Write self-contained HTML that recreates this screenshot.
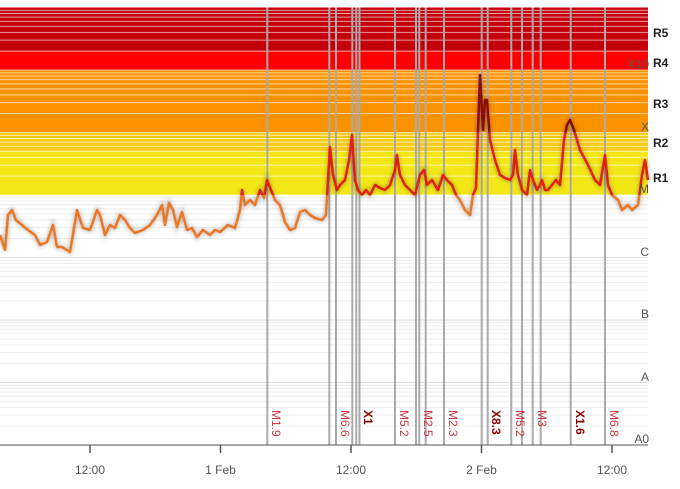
<!DOCTYPE html>
<html><head><meta charset="utf-8"><style>
html,body{margin:0;padding:0;background:#fff;}
svg{display:block;font-family:"Liberation Sans",sans-serif;}
</style></head><body>
<svg id="s" width="680" height="489" xmlns="http://www.w3.org/2000/svg">
<defs>
<clipPath id="cw"><rect x="0" y="195" width="680" height="300"/></clipPath>
<clipPath id="cy"><rect x="0" y="132.5" width="680" height="62.5"/></clipPath>
<clipPath id="co"><rect x="0" y="0" width="680" height="132.5"/></clipPath>
<filter id="gl" x="-5%" y="-20%" width="110%" height="140%"><feGaussianBlur stdDeviation="2"/></filter>
</defs>
<g id="bands">
<rect x="0" y="7.5" width="648" height="43.7" fill="#c4000c"/>
<rect x="0" y="51.2" width="648" height="18.8" fill="#ff0000"/>
<rect x="0" y="70" width="648" height="62.5" fill="#fb9300"/>
<rect x="0" y="132.5" width="648" height="62.5" fill="#f4e718"/>
<rect x="0" y="132.5" width="648" height="18.8" fill="#f7cc1c"/>
</g>
<g id="grid"></g>
<g id="vl" stroke="#aaaaaa" stroke-width="2"></g>
<g id="curve"></g>
<line x1="0" y1="445" x2="648" y2="445" stroke="#555" stroke-width="1"/>
<g stroke="#555" stroke-width="1.5">
<line x1="90" y1="445" x2="90" y2="453"/><line x1="220.5" y1="445" x2="220.5" y2="453"/>
<line x1="351" y1="445" x2="351" y2="453"/><line x1="481.5" y1="445" x2="481.5" y2="453"/>
<line x1="612" y1="445" x2="612" y2="453"/>
</g>
<g font-size="12" fill="#555" text-anchor="middle">
<text x="90" y="474">12:00</text><text x="220.5" y="474">1 Feb</text>
<text x="351" y="474">12:00</text><text x="481.5" y="474">2 Feb</text>
<text x="612" y="474">12:00</text>
</g>
<g font-size="12" fill="#555" text-anchor="end">
<text x="649" y="68">X10</text><text x="649" y="131">X</text><text x="649" y="193">M</text>
<text x="649" y="256">C</text><text x="649" y="318">B</text><text x="649" y="381">A</text>
<text x="649" y="443">A0</text>
</g>
<g font-size="12" font-weight="bold" fill="#222">
<text x="653" y="37">R5</text><text x="653" y="67">R4</text><text x="653" y="108">R3</text>
<text x="653" y="147">R2</text><text x="653" y="182">R1</text>
</g>
<g id="lab" font-size="12"></g>
</svg>
<script>
var NS="http://www.w3.org/2000/svg";
function el(t,a,p){var e=document.createElementNS(NS,t);for(var k in a)e.setAttribute(k,a[k]);p.appendChild(e);return e;}
function Y(l){return 195-62.5*(l+5);}
var g=document.getElementById("grid");
for(var d=-9;d<-2;d++){for(var k=1;k<10;k++){var y=Y(d+Math.log10(k));if(y<7)continue;
 if(y<=195.5) el("line",{x1:0,x2:648,y1:y,y2:y,stroke:"#fff","stroke-opacity":0.6,"stroke-width":1},g);
 else el("line",{x1:0,x2:648,y1:y,y2:y,stroke:k==1?"#dcdcdc":"#ececec","stroke-width":1},g);}}
var vl=document.getElementById("vl");
[267.3,329.3,336,352.3,356.3,359.5,395,416,419.3,425.7,444,481.7,487.7,511.3,522,532.7,540.7,570.7,605].forEach(function(x){el("line",{x1:x,x2:x,y1:7.5,y2:445},vl);});
var lab=document.getElementById("lab");
[[272,"M1.9",0],[341,"M6.6",0],[364,"X1",1],[400,"M5.2",0],[424,"M2.5",0],[449,"M2.3",0],[492,"X8.3",1],[516,"M5.2",0],[538,"M3",0],[576,"X1.6",1],[610,"M6.8",0]].forEach(function(a){
 var t=el("text",{transform:"translate("+a[0]+",410) rotate(90)",fill:a[2]?"#8b0000":"#d0343a","font-weight":a[2]?"bold":"normal"},lab);t.textContent=a[1];});
var P=[[0,235],[5,250],[8,215],[12,210],[16,220],[22,225],[28,230],[35,235],[40,245],[47,242],[53,225],[57,247],[62,247],[70,252],[77,210],[83,228],[90,230],[97,210],[100,215],[105,235],[110,225],[115,228],[120,215],[125,220],[130,228],[135,233],[143,230],[150,225],[157,215],[162,205],[165,225],[169,203],[173,210],[177,227],[182,212],[187,230],[192,228],[197,237],[203,230],[210,235],[215,230],[220,232],[228,225],[235,228],[240,210],[242,190],[245,205],[250,200],[255,205],[260,190],[264,198],[267,180],[271,190],[275,200],[280,205],[285,222],[290,230],[295,228],[300,212],[305,210],[310,215],[315,218],[322,220],[326,215],[328,180],[330,147],[333,175],[337,190],[340,185],[345,180],[349,160],[352,135],[355,180],[358,190],[362,195],[366,190],[370,195],[375,185],[380,188],[385,190],[390,185],[395,170],[397,155],[400,175],[405,185],[410,190],[415,195],[420,175],[424,170],[427,185],[432,180],[438,190],[443,175],[447,180],[452,185],[456,195],[460,200],[465,210],[470,215],[473,195],[476,188],[478,130],[480,75],[483,130],[485,100],[487,100],[490,140],[495,160],[500,175],[505,178],[510,180],[513,175],[515,150],[518,175],[522,190],[527,195],[530,170],[533,180],[537,190],[540,185],[542,180],[545,190],[548,190],[552,185],[556,180],[560,185],[564,140],[567,125],[570,120],[574,130],[580,150],[588,165],[595,180],[600,185],[605,155],[608,185],[612,195],[618,200],[622,210],[628,205],[632,210],[638,205],[642,175],[645,160],[648,180]];
var d="M"+P.map(function(p){return p[0]+","+p[1];}).join(" L");
var c=document.getElementById("curve");
el("path",{d:d,fill:"none",stroke:"#000","stroke-opacity":0.25,"stroke-width":4,filter:"url(#gl)"},c);
el("path",{d:d,fill:"none",stroke:"#ee7722","stroke-width":2.5,"clip-path":"url(#cw)","stroke-linejoin":"round"},c);
el("path",{d:d,fill:"none",stroke:"#e4200f","stroke-width":2.5,"clip-path":"url(#cy)","stroke-linejoin":"round"},c);
el("path",{d:d,fill:"none",stroke:"#8b0a0a","stroke-width":2.5,"clip-path":"url(#co)","stroke-linejoin":"round"},c);
</script>
</body></html>
